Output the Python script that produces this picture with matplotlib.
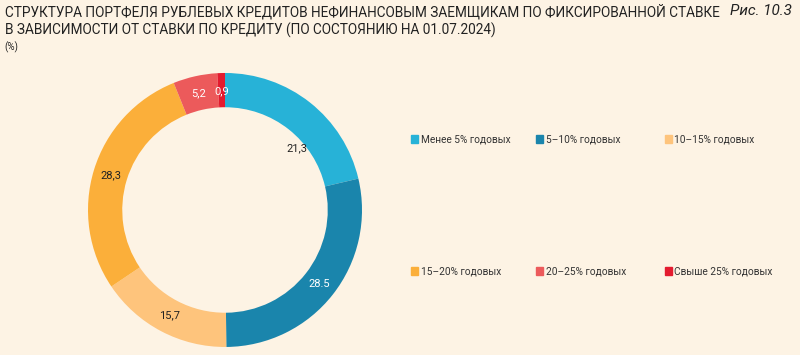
import matplotlib.pyplot as plt
import numpy as np

# данные
categories = ['Менее 5% годовых', '5–10% годовых', '10–15% годовых',
              '15–20% годовых', '20–25% годовых', 'Свыше 25% годовых']
values = [21.3, 28.5, 15.7, 28.3, 5.2, 0.9]
value_labels = ['21,3', '28.5', '15,7', '28,3', '5,2', '0,9']

colors = ['#27B2D7', '#1A85AC', '#FEC47C', '#FBAF3A', '#EC5A5B', '#E31B2F']
text_colors = ['#222222', 'white', '#222222', '#222222', 'white', 'white']
bg = '#FDF3E4'

fig = plt.figure(figsize=(8, 3.55), dpi=100, facecolor=bg)

# заголовок
tfont = ['Roboto', 'DejaVu Sans']
fig.text(0.006, 0.988, 'СТРУКТУРА ПОРТФЕЛЯ РУБЛЕВЫХ КРЕДИТОВ НЕФИНАНСОВЫМ ЗАЕМЩИКАМ ПО ФИКСИРОВАННОЙ СТАВКЕ',
         fontsize=9.8, family=tfont, color='#222222', va='top')
fig.text(0.006, 0.936, 'В ЗАВИСИМОСТИ ОТ СТАВКИ ПО КРЕДИТУ (ПО СОСТОЯНИЮ НА 01.07.2024)',
         fontsize=9.8, family=tfont, color='#222222', va='top')
fig.text(0.99, 0.99, 'Рис. 10.3', fontsize=11, style='italic', ha='right', va='top',
         family=tfont, color='#222222')
fig.text(0.006, 0.882, '(%)', fontsize=7, family=tfont, color='#222222', va='top')

# кольцевая диаграмма
ax = fig.add_axes([0.11, 0.0225, 0.3425, 0.772])
ax.set_facecolor(bg)
wedges, _ = ax.pie(values, colors=colors, startangle=90, counterclock=False,
                   radius=1, wedgeprops=dict(width=0.25, edgecolor='none'))
for i, (w, lab, tc) in enumerate(zip(wedges, value_labels, text_colors)):
    ang = (w.theta1 + w.theta2) / 2
    r = 0.87
    if i == 0:
        # подпись 21,3 в оригинале сдвинута к внутреннему краю
        ang -= 11
        r = 0.69
    ang = np.deg2rad(ang)
    ax.text(r * np.cos(ang), r * np.sin(ang), lab, ha='center', va='center',
            fontsize=8, color=tc, family='Roboto')
ax.set_xlim(-1, 1)
ax.set_ylim(-1, 1)
ax.set_aspect('equal')

# легенда
leg_x = [0.514, 0.670, 0.831]
leg_y = [0.608, 0.236]
for i, (name, c) in enumerate(zip(categories, colors)):
    x = leg_x[i % 3]
    y = leg_y[i // 3]
    fig.patches.append(plt.Rectangle((x, y - 0.011), 0.009, 0.022, color=c,
                                     transform=fig.transFigure, figure=fig))
    fig.text(x + 0.012, y, name, fontsize=7.3, va='center', color='#333333', family='Roboto')

plt.savefig('out.png', dpi=100, facecolor=bg)
